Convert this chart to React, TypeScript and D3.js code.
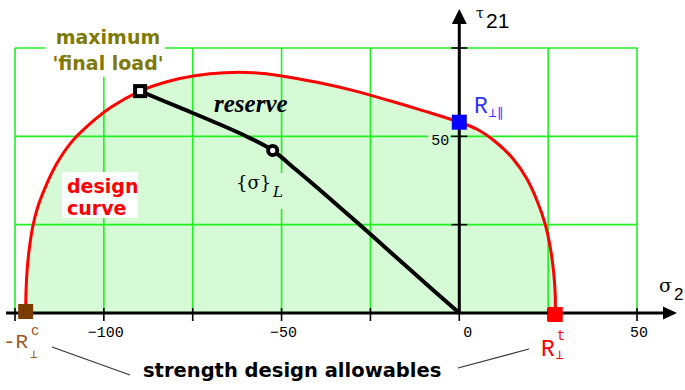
import React from 'react';
import * as d3 from 'd3';

const W = 685;
const H = 390;

// Fracture envelope in the (σ2, τ21) plane, MPa
const envelopeSigma = [-122, -121.9, -121.6, -121.0, -120.0, -118.6, -116.3, -113.4, -109.4, -104.5, -98, -89.8, -82, -74, -66, -58, -50, -40, -30, -20, -10, 0, 5, 10, 15, 19, 22, 24.2, 25.7, 26.6, 27, 27];
const envelopeTau = [0, 6, 12, 18, 24.5, 30, 36, 42, 48, 53, 58.2, 62.8, 65.5, 67.2, 68.0, 68.0, 67.1, 65.3, 63.0, 60.2, 57.2, 54, 52, 48.6, 43.8, 38, 31.5, 25, 18, 11, 5, 0];

// Load path from the origin up to the final load
const pathSigma = [0, -13, -26, -39.2, -46, -52.5, -59.7, -69.3, -78.6, -89.8];
const pathTau = [0, 11.5, 23.2, 34.8, 40.6, 46, 49.9, 54.2, 58.1, 62.8];

// Strength design allowables
const R_perp_c = 122;
const R_perp_t = 27;
const R_perp_par = 54;

const loadPoint = [-52.5, 46];
const maxPoint = [-89.8, 62.8];

const gridSigma = [-125, -100, -75, -50, -25, 0, 25, 50];
const gridTau = [0, 25, 50, 75];
const sigmaTickLabels = [-100, -50, 0, 50];
const tauTickLabels = [50];

const FILL = '#d5fad5';
const GRID = '#1ff01f';

export default function App() {
  const x = d3.scaleLinear().domain([-125, 50]).range([15, 637]);
  const y = d3.scaleLinear().domain([0, 75]).range([313, 48]);

  const env = envelopeSigma.map((s, i) => [s, envelopeTau[i]]);
  const path = pathSigma.map((s, i) => [s, pathTau[i]]);

  const area = d3
    .area<number[]>()
    .x((d) => x(d[0]))
    .y0(y(0))
    .y1((d) => y(d[1]))
    .curve(d3.curveCatmullRom.alpha(0.5));
  const line = d3
    .line<number[]>()
    .x((d) => x(d[0]))
    .y((d) => y(d[1]))
    .curve(d3.curveCatmullRom.alpha(0.5));

  const x0 = x(0);
  const y0 = y(0);
  const gx0 = x(gridSigma[0]);
  const gx1 = x(gridSigma[gridSigma.length - 1]);
  const gy1 = y(gridTau[gridTau.length - 1]);

  const fmt = (v: number) => (v < 0 ? '\u2212' + Math.abs(v) : String(v));

  return (
    <svg
      width={W}
      height={H}
      style={{ position: 'absolute', left: 0, top: 0, background: '#fff' }}
      fontFamily="'DejaVu Sans', sans-serif"
    >
      <rect x={0} y={0} width={W} height={H} fill="#fff" />

      {/* area under the fracture envelope */}
      <path d={area(env) || ''} fill={FILL} />

      {/* grid */}
      <g stroke={GRID} strokeWidth={1.6}>
        {gridSigma.map((s) => (
          <line key={'v' + s} x1={x(s)} x2={x(s)} y1={y0} y2={gy1} />
        ))}
        {gridTau.filter((t) => t > 0).map((t) => (
          <line key={'h' + t} x1={gx0} x2={gx1} y1={y(t)} y2={y(t)} />
        ))}
      </g>

      {/* label backgrounds */}
      <rect x={45} y={24} width={120} height={53} fill="#fff" />
      <rect x={62} y={172} width={76} height={46} fill="#fff" />
      <rect x={234} y={173} width={56} height={36} fill={FILL} />
      <rect x={428} y={130} width={22} height={17} fill={FILL} />

      {/* fracture envelope */}
      <path d={line(env) || ''} fill="none" stroke="#ff0000" strokeWidth={3} />

      {/* axes */}
      <g stroke="#000" strokeWidth={3}>
        <line x1={6} x2={664} y1={y0} y2={y0} />
        <line x1={x0} x2={x0} y1={y0} y2={22} />
      </g>
      <path d={`M${663},${y0 - 6.5}L${677},${y0}L${663},${y0 + 6.5}Z`} fill="#000" />
      <path d={`M${x0 - 7.5},${24}L${x0},${9}L${x0 + 7.5},${24}Z`} fill="#000" />

      {/* ticks */}
      <g stroke="#000" strokeWidth={1.6}>
        {gridSigma.map((s) => (
          <line key={'tx' + s} x1={x(s)} x2={x(s)} y1={y0 - 5} y2={y0 + 8} />
        ))}
        {gridTau.filter((t) => t > 0).map((t) => (
          <line key={'ty' + t} x1={x0 - 8} x2={x0 + 8} y1={y(t)} y2={y(t)} />
        ))}
      </g>

      {/* tick labels */}
      <g fontFamily="'Liberation Mono', 'DejaVu Sans Mono', monospace" fontSize={15} fill="#000">
        {sigmaTickLabels.map((s) =>
          s === 0 ? (
            <text key={'lx' + s} x={x(s) + 4} y={337} textAnchor="start">
              {fmt(s)}
            </text>
          ) : (
            <text key={'lx' + s} x={x(s) + 2} y={337} textAnchor="middle">
              {fmt(s)}
            </text>
          )
        )}
        {tauTickLabels.map((t) => (
          <text key={'ly' + t} x={x0 - 10} y={y(t) + 9} textAnchor="end">
            {fmt(t)}
          </text>
        ))}
      </g>

      {/* load path */}
      <path d={line(path) || ''} fill="none" stroke="#000" strokeWidth={4} strokeLinejoin="round" />

      {/* strength markers */}
      <rect x={x(-R_perp_c) - 7.5} y={y0 - 9} width={15} height={15} fill="#7a3c00" />
      <rect x={x(R_perp_t) - 7.5} y={y0 - 6} width={15} height={15} fill="#ff0000" />
      <rect x={x0 - 7.5} y={y(R_perp_par) - 7.5} width={15} height={15} fill="#0000ff" />

      {/* final load and load state markers */}
      <rect x={x(maxPoint[0]) - 7} y={y(maxPoint[1]) - 7} width={14} height={14} fill="#000" />
      <rect x={x(maxPoint[0]) - 3} y={y(maxPoint[1]) - 3} width={6} height={6} fill="#fff" />
      <circle cx={x(loadPoint[0])} cy={y(loadPoint[1])} r={6.5} fill="#000" />
      <circle cx={x(loadPoint[0])} cy={y(loadPoint[1])} r={2.6} fill="#fff" />

      {/* axis titles */}
      <text x={476} y={18} fontFamily="'DejaVu Serif', serif" fontSize={14} fill="#000">τ</text>
      <text x={486} y={28} fontFamily="'Liberation Sans', sans-serif" fontSize={21} fill="#000">21</text>
      <text x={659} y={292} fontFamily="'DejaVu Serif', serif" fontSize={19} fill="#000">σ</text>
      <text x={674} y={300} fontFamily="'Liberation Sans', sans-serif" fontSize={17} fill="#000">2</text>

      {/* annotations */}
      <g fontWeight="bold" fontSize={19} fill="#7f7a08" textAnchor="middle">
        <text x={108} y={44}>maximum</text>
        <text x={108} y={70}>'final load'</text>
      </g>
      <g fontWeight="bold" fontSize={19} fill="#ff0000">
        <text x={67} y={193}>design</text>
        <text x={67} y={215}>curve</text>
      </g>
      <text x={214} y={112} fontFamily="'Liberation Serif', serif" fontWeight="bold" fontStyle="italic" fontSize={25} fill="#000">
        reserve
      </text>
      <text x={236} y={189} fontFamily="'DejaVu Serif', serif" fontSize={18} fill="#000">
        {'{σ}'}
      </text>
      <text x={273} y={197} fontFamily="'DejaVu Serif', serif" fontStyle="italic" fontSize={15} fill="#000">L</text>

      {/* strength labels */}
      <g fontFamily="'Liberation Mono', 'DejaVu Sans Mono', monospace">
        <text x={474} y={113} fontSize={23} fill="#3333ff">R</text>
        <text x={489} y={117} fontSize={13} fill="#3333ff" fontFamily="'DejaVu Sans Mono', monospace">⊥∥</text>

        <text x={3} y={348} fontSize={21} fill="#a0561c">-R</text>
        <text x={31} y={335} fontSize={14} fill="#a0561c">c</text>
        <text x={30} y={358} fontSize={12} fill="#a0561c" fontFamily="'DejaVu Sans Mono', monospace">⊥</text>

        <text x={541} y={356} fontSize={23} fill="#ff0000">R</text>
        <text x={557} y={340} fontSize={14} fill="#ff0000">t</text>
        <text x={556} y={359} fontSize={13} fill="#ff0000" fontFamily="'DejaVu Sans Mono', monospace">⊥</text>
      </g>

      <text x={143} y={377} fontWeight="bold" fontSize={19.5} fill="#000">
        strength design allowables
      </text>
      <g stroke="#333" strokeWidth={1.2}>
        <line x1={52} y1={347} x2={130} y2={375} />
        <line x1={458} y1={368} x2={529} y2={349} />
      </g>
    </svg>
  );
}
